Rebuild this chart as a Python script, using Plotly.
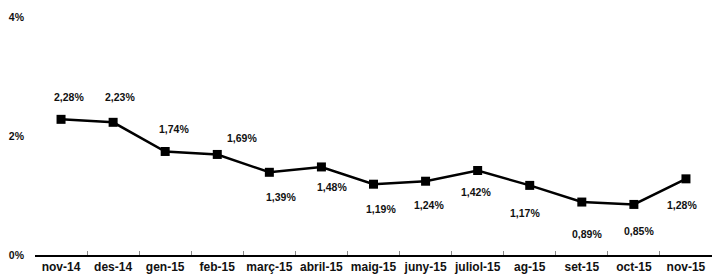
import plotly.graph_objects as go

categories = ["nov-14", "des-14", "gen-15", "feb-15", "març-15", "abril-15", "maig-15",
              "juny-15", "juliol-15", "ag-15", "set-15", "oct-15", "nov-15"]
values = [2.28, 2.23, 1.74, 1.69, 1.39, 1.48, 1.19, 1.24, 1.42, 1.17, 0.89, 0.85, 1.28]
tick_vals = [0, 2, 4]
tick_text = ["0%", "2%", "4%"]
# offsets of each value label from its point (px; y: + = above)
label_shift_y = [22, 25, 22, 16, -25, -20, -25, -24, -21, -28, -32, -27, -26]
label_shift_x = [8, 7, 9, 25, 12, 11, 7, 3, -2, -5, 5, 5, -4]

font_family = "Liberation Sans, Arial, sans-serif"

fig = go.Figure()
fig.add_trace(go.Scatter(
    x=categories, y=values, mode="lines+markers",
    line=dict(color="#000000", width=2.5),
    marker=dict(symbol="square", size=9, color="#000000"),
    hoverinfo="skip",
))

for c, v, sx, sy in zip(categories, values, label_shift_x, label_shift_y):
    fig.add_annotation(
        x=c, y=v, text="<b>" + f"{v:.2f}".replace(".", ",") + "%</b>",
        showarrow=False, xshift=sx, yshift=sy,
        font=dict(family=font_family, size=10.5, color="#111111"),
    )

fig.update_layout(
    width=712, height=275,
    margin=dict(l=35, r=0, t=17, b=20, autoexpand=False),
    paper_bgcolor="white", plot_bgcolor="white",
    showlegend=False,
    font=dict(family=font_family, size=11, color="#111111"),
)
fig.update_xaxes(
    type="category", range=[-0.5, len(categories) - 0.5],
    showline=True, linecolor="#000000", linewidth=1.5,
    ticks="inside", tickson="boundaries", ticklen=4, tickcolor="#888888",
    showgrid=False, zeroline=False, tickangle=0, automargin=False,
    tickfont=dict(family=font_family, size=12, color="#111111", weight="bold"),
)
fig.update_yaxes(
    range=[0, 4], tickvals=tick_vals, ticktext=tick_text, automargin=False,
    showgrid=False, zeroline=False, showline=False, ticks="",
    ticklabelstandoff=10,
    tickfont=dict(family=font_family, size=10.5, color="#111111", weight="bold"),
)

fig.write_html(
    "out.html",
    config={"displayModeBar": False, "staticPlot": True},
    post_script="document.body.style.margin='0';document.body.style.overflow='hidden';",
)
